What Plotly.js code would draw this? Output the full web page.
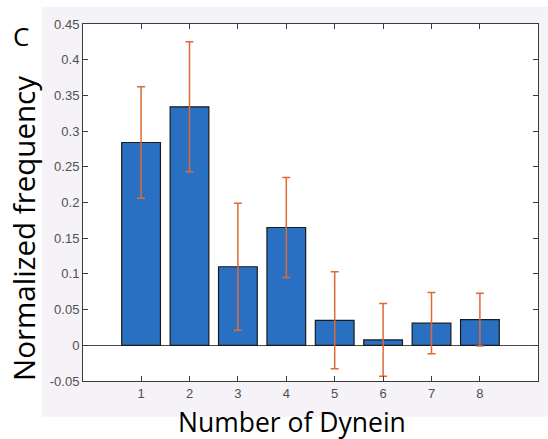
<!DOCTYPE html>
<html>
<head>
<meta charset="utf-8">
<script src="https://cdn.plot.ly/plotly-3.0.1.min.js"></script>
<style>html,body{margin:0;padding:0;background:#fff;}#chart{width:548px;height:439px;}</style>
</head>
<body>
<div id="chart"></div>
<script>
const categories = [1, 2, 3, 4, 5, 6, 7, 8];
const frequency = [0.284, 0.334, 0.110, 0.165, 0.035, 0.0075, 0.031, 0.036];
const errors = [0.078, 0.091, 0.089, 0.070, 0.068, 0.051, 0.043, 0.037];
const yTickVals = [-0.05, 0, 0.05, 0.1, 0.15, 0.2, 0.25, 0.3, 0.35, 0.4, 0.45];
const yTickText = ['-0.05', '0', '0.05', '0.1', '0.15', '0.2', '0.25', '0.3', '0.35', '0.4', '0.45'];
const xTickText = ['1', '2', '3', '4', '5', '6', '7', '8'];

const W = 548, H = 439;
const M = {l: 83, r: 10, t: 24, b: 58};
const pw = W - M.l - M.r, ph = H - M.t - M.b;
const px = x => (x - M.l) / pw;
const py = y => (H - M.b - y) / ph;

const trace = {
  type: 'bar',
  x: categories,
  y: frequency,
  width: 0.8,
  marker: {color: '#2a70c2', line: {color: '#1a1a1a', width: 1.2}},
  error_y: {type: 'data', array: errors, visible: true, color: '#e06a35', thickness: 1.5, width: 4}
};

const axisCommon = {
  showline: true, linecolor: '#3a3a3a', linewidth: 1, mirror: 'ticks',
  ticks: 'inside', ticklen: 5, tickcolor: '#3a3a3a', tickwidth: 1,
  showgrid: false,
  tickfont: {family: 'Liberation Sans, Arial, sans-serif', size: 13, color: '#505050'}
};

const layout = {
  width: W, height: H,
  margin: M,
  paper_bgcolor: '#ffffff',
  plot_bgcolor: 'rgba(0,0,0,0)',
  showlegend: false,
  xaxis: Object.assign({}, axisCommon, {
    range: [-0.2, 9.2], tickvals: categories, ticktext: xTickText, zeroline: false
  }),
  yaxis: Object.assign({}, axisCommon, {
    range: [-0.05, 0.45], tickvals: yTickVals, ticktext: yTickText,
    zeroline: true, zerolinecolor: '#4a4a4a', zerolinewidth: 1
  }),
  shapes: [
    {type: 'rect', xref: 'paper', yref: 'paper', x0: px(41.7), x1: px(548), y0: py(416.7), y1: py(6.7),
     fillcolor: '#f5f2f8', line: {width: 0}, layer: 'below'},
    {type: 'rect', xref: 'paper', yref: 'paper', x0: 0, x1: 1, y0: 0, y1: 1,
     fillcolor: '#ffffff', line: {width: 0}, layer: 'below'}
  ],
  annotations: [
    {text: 'C', xref: 'paper', yref: 'paper', x: px(21), y: py(35.5), xanchor: 'center', yanchor: 'middle',
     showarrow: false, font: {family: 'Open Sans, sans-serif', size: 26, color: '#000'}},
    {text: 'Number of Dynein', xref: 'paper', yref: 'paper', x: px(292), y: py(422), xanchor: 'center', yanchor: 'middle',
     showarrow: false, font: {family: 'Open Sans, sans-serif', size: 26.5, color: '#000'}},
    {text: 'Normalized frequency', xref: 'paper', yref: 'paper', x: px(24), y: py(229), xanchor: 'center', yanchor: 'middle',
     textangle: -90, showarrow: false, font: {family: 'Open Sans, sans-serif', size: 29.5, color: '#000'}}
  ]
};

Plotly.newPlot('chart', [trace], layout, {displayModeBar: false, staticPlot: true});
</script>
</body>
</html>
